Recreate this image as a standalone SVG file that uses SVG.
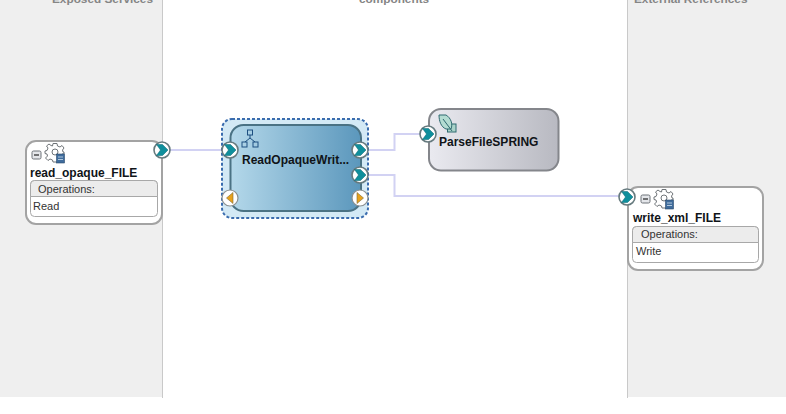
<svg xmlns="http://www.w3.org/2000/svg" xmlns:xlink="http://www.w3.org/1999/xlink" width="786" height="414" viewBox="0 0 786 414">
<style>
text{font-family:"Liberation Sans",Arial,sans-serif}
.swim{font-size:11.8px;font-weight:bold;fill:#858585}
.name{font-size:12px;font-weight:bold;fill:#101418}
.small{font-size:11px;fill:#333}
.binding{fill:#fff;stroke:#a3a3a3;stroke-width:2}
.tbl{fill:#fff;stroke:#a8a8a8;stroke-width:1}
.hdr{fill:#ececec;stroke:#a8a8a8;stroke-width:1}
.wire{fill:none;stroke:#d2d2f3;stroke-width:2}
</style>
<defs>
<linearGradient id="blue" x1="0" y1="0" x2="1" y2="0"><stop offset="0" stop-color="#b4d8ea"/><stop offset="1" stop-color="#5b97bc"/></linearGradient>
<linearGradient id="gray" x1="0" y1="0" x2="1" y2="0"><stop offset="0" stop-color="#eaeaf0"/><stop offset="1" stop-color="#b8b9c1"/></linearGradient>
<g id="port"><circle r="8" fill="#fff" stroke="#667a7e" stroke-width="1.6"/><path d="M-5.500-5.500H0.500L6 0 0.500 5.500H-5.500L-1.500 0Z" fill="#0f8f9c" stroke="#0b6470" stroke-width=".5"/></g>
<g id="refL"><circle r="8" fill="#fff" stroke="#8a8f90" stroke-width="1.2"/><path d="M3-5.500V5.500L-3.500 0Z" fill="#e8a21c" stroke="#7a6a3a" stroke-width=".6"/></g>
<g id="refR"><circle r="8" fill="#fff" stroke="#8a8f90" stroke-width="1.2"/><path d="M-3-5.500V5.500L3.500 0Z" fill="#e8a21c" stroke="#7a6a3a" stroke-width=".6"/></g>
<g id="minus"><rect x="-4.500" y="-4" width="9" height="8" rx="1.500" fill="#e4e6ea" stroke="#6d7278"/><path d="M-2.500 0H2.500" stroke="#222" stroke-width="1.200"/></g>
<g id="gear"><path d="M-2-9.500H2L2.500-7 5-6 7-7.500 9-5 7.500-3 8-1H9V1H7L7.500 3 8 5 5 7.500 3 6.500 2.500 9H-2L-2.500 7-5 6-7 7.500-9.500 5-7.500 3-8 1-10 .5V-2L-8-2.500-7-5-8.500-7-6-9-4-7.500-2.500-7Z" fill="#fff" stroke="#6f7478" stroke-width="1"/><circle cy="-1" r="3" fill="#fff" stroke="#6f7478"/><rect x="1.500" y="1" width="8" height="9" fill="#3f6c9c" stroke="#2b4a6c" stroke-width=".6"/><path d="M3 4H8M3 6.500H8" stroke="#cfe0ee" stroke-width=".8"/></g>
</defs>
<rect width="786" height="414" fill="#fff"/>
<g id="swimlanes">
<rect x="0" y="0" width="162" height="397" fill="#efefef"/>
<rect x="628" y="0" width="158" height="397" fill="#efefef"/>
<path d="M162.500 0V398M627.500 0V398" stroke="#c9c9c9" stroke-width="1"/>
<text class="swim" x="52" y="3">Exposed Services</text>
<text class="swim" x="359" y="3">components</text>
<text class="swim" x="634" y="3">External References</text>
</g>
<g id="connectors">
<path class="wire" d="M170 150H222"/>
<path class="wire" d="M368 150H394.500V134H420"/>
<path class="wire" d="M368 175H394.500V196H619"/>
</g>
<g id="read_opaque_FILE">
<rect class="binding" x="26" y="141" width="136" height="83" rx="10"/>
<use xlink:href="#minus" x="36.500" y="155"/>
<use xlink:href="#gear" x="55" y="153"/>
<text class="name" x="30" y="177">read_opaque_FILE</text>
<rect class="tbl" x="30.500" y="180.500" width="127" height="36" rx="4"/>
<path class="hdr" d="M30.500 196.500V184.500a4 4 0 0 1 4-4H153.500a4 4 0 0 1 4 4V196.500Z"/>
<text class="small" x="38" y="193">Operations:</text>
<text class="small" x="33" y="210">Read</text>
<use xlink:href="#port" x="162" y="150"/>
</g>
<g id="ReadOpaqueWrite">
<rect x="222" y="119" width="146" height="99" rx="10" fill="#d3e9f5" stroke="#3a6cae" stroke-width="2" stroke-dasharray="3 2"/>
<rect x="230.500" y="125" width="130.500" height="86" rx="13" fill="url(#blue)" stroke="#4a7284" stroke-width="2"/>
<g fill="none" stroke="#1d4f80" stroke-width="1"><rect x="247.500" y="130" width="5" height="5"/><rect x="242" y="142" width="5" height="5"/><rect x="253" y="142" width="5" height="5"/><path d="M250 135V138M245 142L250 138 255 142"/></g>
<text class="name" x="242" y="164">ReadOpaqueWrit...</text>
<use xlink:href="#port" x="230" y="150"/>
<use xlink:href="#port" x="360" y="150"/>
<use xlink:href="#port" x="360" y="175"/>
<use xlink:href="#refL" x="230" y="198"/>
<use xlink:href="#refR" x="360" y="198"/>
</g>
<g id="ParseFileSPRING">
<rect x="429" y="109" width="129.500" height="61.500" rx="12" fill="url(#gray)" stroke="#84868b" stroke-width="2"/>
<rect x="447.500" y="124" width="8.500" height="8" fill="#a9d3c9" stroke="#2f6a70"/>
<path d="M439 115H446C451 118 453 124 451 129H446C441 127 439 121 439 115Z" fill="#b4dcd2" stroke="#2f6a70"/>
<path d="M443 119L452 131" stroke="#2f6a70" fill="none"/>
<text class="name" x="439" y="146">ParseFileSPRING</text>
<use xlink:href="#port" x="428" y="134"/>
</g>
<g id="write_xml_FILE">
<rect class="binding" x="628" y="187" width="135" height="83" rx="10"/>
<use xlink:href="#minus" x="645.500" y="199"/>
<use xlink:href="#gear" x="664" y="199"/>
<text class="name" x="633" y="222">write_xml_FILE</text>
<rect class="tbl" x="632.500" y="226.500" width="126" height="36" rx="4"/>
<path class="hdr" d="M632.500 242.500V230.500a4 4 0 0 1 4-4H754.500a4 4 0 0 1 4 4V242.500Z"/>
<text class="small" x="641" y="238">Operations:</text>
<text class="small" x="636" y="255">Write</text>
<use xlink:href="#port" x="627" y="197"/>
</g>
</svg>
